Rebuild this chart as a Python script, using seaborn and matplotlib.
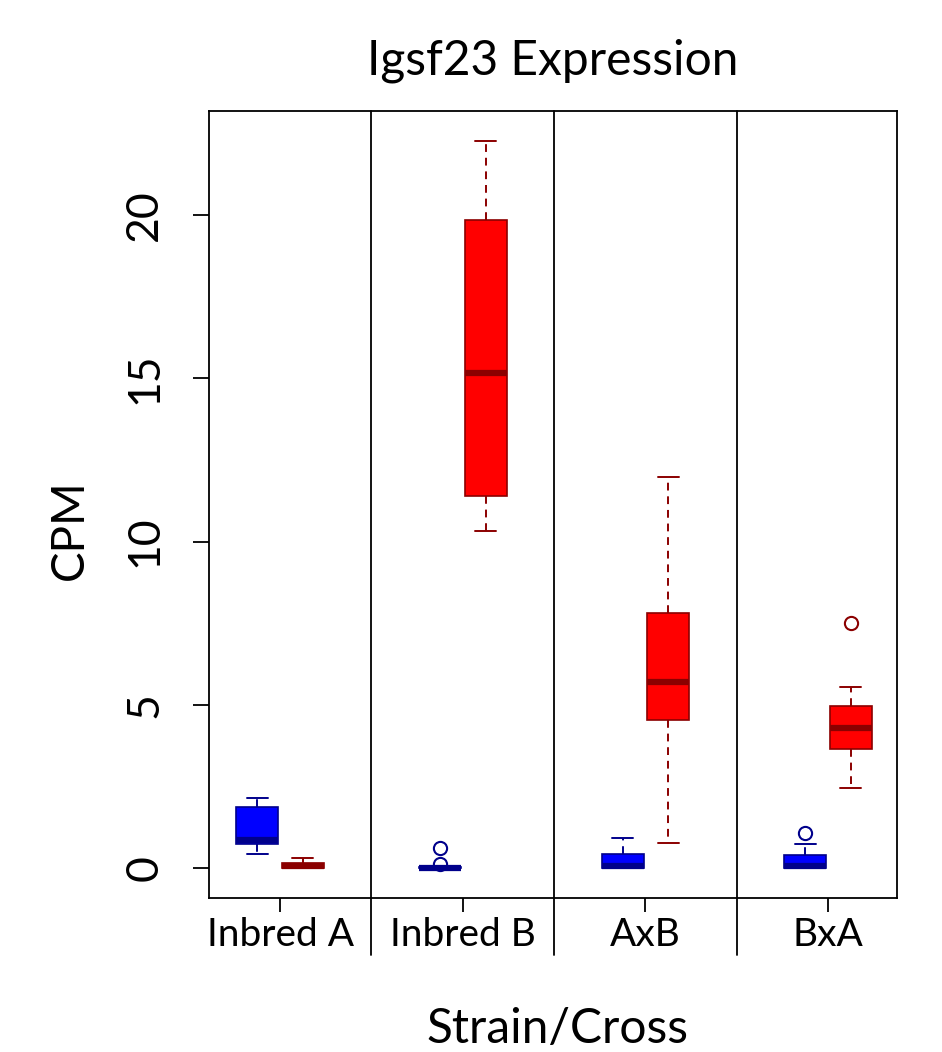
import numpy as np
import pandas as pd
import matplotlib
matplotlib.use("Agg")
import matplotlib.pyplot as plt
import seaborn as sns

# categories
strains = ["Inbred A", "Inbred B", "AxB", "BxA"]
alleles = ["A allele", "B allele"]

# CPM per sample (blue = A allele, red = B allele)
inbredA_a = [0.43, 0.60, 0.74, 0.80, 0.86, 1.30, 1.87, 2.00, 2.14]
inbredA_b = [0.00, 0.00, 0.00, 0.02, 0.05, 0.09, 0.15, 0.22, 0.29]
inbredB_a = [0.00, 0.00, 0.00, 0.00, 0.00, 0.01, 0.01, 0.02, 0.02, 0.03, 0.04, 0.12, 0.60]
inbredB_b = [10.32, 10.90, 11.39, 13.20, 15.16, 17.50, 19.85, 21.00, 22.27]
axb_a = [0.00, 0.00, 0.01, 0.03, 0.06, 0.20, 0.42, 0.60, 0.91]
axb_b = [0.77, 3.00, 4.53, 5.10, 5.70, 6.80, 7.81, 9.50, 11.98]
bxa_a = [0.00, 0.00, 0.01, 0.03, 0.05, 0.20, 0.40, 0.74, 1.07]
bxa_b = [2.45, 3.20, 3.64, 4.00, 4.29, 4.60, 4.96, 5.54, 7.50]

groups = {
    ("Inbred A", "A allele"): inbredA_a,
    ("Inbred A", "B allele"): inbredA_b,
    ("Inbred B", "A allele"): inbredB_a,
    ("Inbred B", "B allele"): inbredB_b,
    ("AxB", "A allele"): axb_a,
    ("AxB", "B allele"): axb_b,
    ("BxA", "A allele"): bxa_a,
    ("BxA", "B allele"): bxa_b,
}

rows = []
for (s, a), vals in groups.items():
    for v in vals:
        rows.append({"strain": s, "allele": a, "cpm": v})
df = pd.DataFrame(rows)

sns.set_theme(style="white")
plt.rcParams["font.family"] = ["Lato", "DejaVu Sans"]
plt.rcParams["text.color"] = "black"

fill = ["#0000FF", "#FF0000"]
edge = ["#00008B", "#8B0000"]

fig = plt.figure(figsize=(9.42, 10.52), dpi=100)
ax = fig.add_axes([0.2219, 0.1464, 0.7304, 0.748])

sns.boxplot(data=df, x="strain", y="cpm", hue="allele", order=strains,
            hue_order=alleles, palette=fill, width=0.5, gap=0.08,
            linewidth=1.2, fliersize=9.5, saturation=1,
            whiskerprops=dict(linestyle=(0, (4, 3)), linewidth=1.4),
            capprops=dict(linewidth=1.4),
            medianprops=dict(linewidth=4.5),
            flierprops=dict(marker="o", markerfacecolor="none", markeredgewidth=1.5),
            legend=False, ax=ax)

# R-like line colours per allele
for cont, ec in zip(ax.containers, edge):
    for b in cont.boxes:
        b.set_edgecolor(ec)
    for l in list(cont.medians) + list(cont.whiskers) + list(cont.caps):
        l.set_color(ec)
    for l in cont.fliers:
        l.set_markeredgecolor(ec)
        l.set_markerfacecolor("none")

# group separators, running down into the label area
for x in [0.5, 1.5, 2.5]:
    ax.axvline(x, ymin=-0.072, ymax=1, color="black", lw=1.3, clip_on=False, zorder=5)

ax.set_xlim(-0.389, 3.378)
ax.set_ylim(-0.92, 23.19)
ax.set_yticks([0, 5, 10, 15, 20])
ax.set_yticklabels(["0", "5", "10", "15", "20"])

for sp in ax.spines.values():
    sp.set_color("black")
    sp.set_linewidth(1.3)

ax.tick_params(axis="x", bottom=True, direction="out", length=10, width=1.3,
               labelsize=28, pad=4, colors="black")
ax.tick_params(axis="y", left=True, direction="out", length=11.5, width=1.3,
               labelsize=32, pad=20, colors="black", labelrotation=90)
for lab in ax.get_yticklabels():
    lab.set_va("center")

ax.set_xlabel("")
ax.set_ylabel("")
ax.set_title("Igsf23 Expression", fontsize=34.5, pad=26, color="black")
fig.text(70 / 942, 1 - 530 / 1052, "CPM", rotation=90, fontsize=33,
         ha="center", va="center", color="black")
fig.text(557 / 942, 1 - 1043 / 1052, "Strain/Cross", fontsize=34.5,
         ha="center", va="baseline", color="black")

fig.savefig("out.png", dpi=100)
